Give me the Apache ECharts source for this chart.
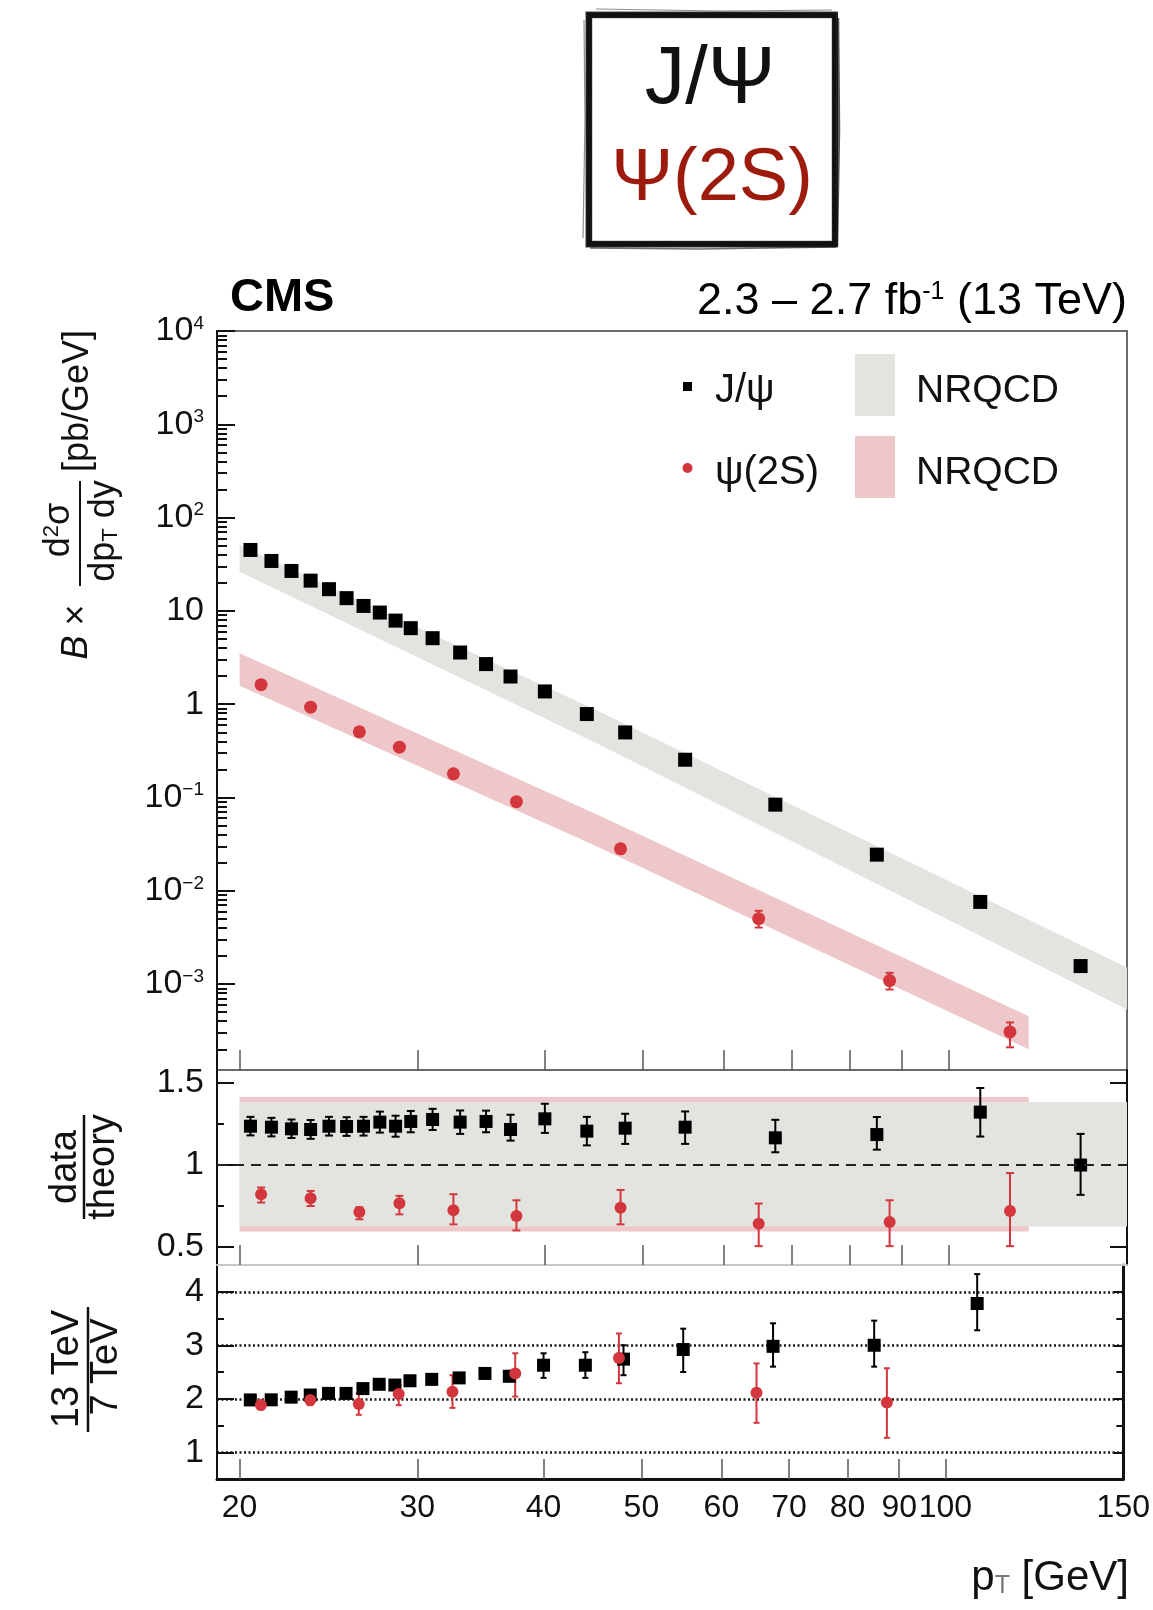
<!DOCTYPE html>
<html>
<head>
<meta charset="utf-8">
<script src="https://cdn.jsdelivr.net/npm/echarts@6/dist/echarts.min.js"></script>
<style>
  html, body { margin: 0; padding: 0; background: #fff; }
  #c { width: 1153px; height: 1610px; }
</style>
</head>
<body>
<div id="c"></div>
<script>
// ---------- measured values ----------
// J/psi: pT bin centres [GeV] and B x d2sigma/dpT dy [pb/GeV]
const jpsiPt   = [20.5, 21.5, 22.5, 23.5, 24.5, 25.5, 26.5, 27.5, 28.5, 29.5, 31, 33, 35, 37, 40, 44, 48, 55, 67.5, 85, 107.5, 135];
const jpsiXsec = [45, 34.3, 26.8, 21.1, 17.1, 13.7, 11.3, 9.6, 7.87, 6.53, 5.1, 3.58, 2.69, 1.98, 1.37, 0.784, 0.498, 0.254, 0.0838, 0.0244, 0.0076, 0.00156];

// psi(2S)
const psiPt   = [21, 23.5, 26.25, 28.75, 32.5, 37.5, 47.5, 65, 87.5, 115];
const psiXsec = [1.62, 0.929, 0.506, 0.346, 0.1795, 0.0902, 0.0282, 0.00503, 0.00109, 0.000307];
const psiXsecLo = [null, null, null, null, null, null, null, 0.00404, 0.000875, 0.00021];
const psiXsecHi = [null, null, null, null, null, null, null, 0.0061, 0.00132, 0.000388];

// NRQCD bands for the cross sections
const jpsiBandPt = [20, 45.3, 150];
const jpsiBandLo = [26.2, 0.367, 0.000535];
const jpsiBandHi = [50.9, 0.829, 0.00151];
const psiBandPt  = [20, 45.3, 120];
const psiBandLo  = [1.574, 0.029, 0.0002];
const psiBandHi  = [3.52, 0.0638, 0.000453];

// data / theory
const jpsiRatio   = [1.237, 1.231, 1.221, 1.217, 1.237, 1.235, 1.237, 1.262, 1.237, 1.266, 1.278, 1.262, 1.266, 1.217, 1.282, 1.207, 1.225, 1.231, 1.166, 1.186, 1.323, 1.0];
const jpsiRatioLo = [1.181, 1.175, 1.165, 1.16, 1.18, 1.178, 1.18, 1.198, 1.173, 1.2, 1.214, 1.19, 1.2, 1.149, 1.196, 1.12, 1.129, 1.129, 1.078, 1.094, 1.174, 0.818];
const jpsiRatioHi = [1.294, 1.288, 1.278, 1.275, 1.294, 1.292, 1.294, 1.326, 1.301, 1.33, 1.343, 1.333, 1.332, 1.307, 1.374, 1.294, 1.313, 1.327, 1.276, 1.293, 1.47, 1.19];
const psiRatio   = [0.822, 0.798, 0.714, 0.767, 0.724, 0.689, 0.74, 0.642, 0.652, 0.72];
const psiRatioLo = [0.771, 0.75, 0.669, 0.699, 0.638, 0.601, 0.638, 0.505, 0.505, 0.505];
const psiRatioHi = [0.863, 0.842, 0.742, 0.812, 0.822, 0.785, 0.848, 0.765, 0.785, 0.951];

// relative NRQCD uncertainty bands in the ratio panel
const jpsiRatioBandPt = [20, 150];
const jpsiRatioBandLo = [0.625, 0.625];
const jpsiRatioBandHi = [1.385, 1.385];
const psiRatioBandPt  = [20, 120];
const psiRatioBandLo  = [0.595, 0.595];
const psiRatioBandHi  = [1.415, 1.415];

// 13 TeV / 7 TeV
const jpsiEnergyPt  = [20.5, 21.5, 22.5, 23.5, 24.5, 25.5, 26.5, 27.5, 28.5, 29.5, 31, 33, 35, 37, 40, 44, 48, 55, 67.5, 85, 107.5];
const jpsiEnergy    = [1.978, 1.98, 2.03, 2.07, 2.10, 2.10, 2.19, 2.27, 2.256, 2.336, 2.362, 2.39, 2.473, 2.42, 2.627, 2.627, 2.74, 2.92, 2.98, 3.0, 3.78];
const jpsiEnergyLo  = [1.93, 1.93, 1.98, 2.02, 2.05, 2.05, 2.12, 2.2, 2.18, 2.26, 2.28, 2.3, 2.38, 2.33, 2.39, 2.39, 2.44, 2.5, 2.6, 2.6, 3.28];
const jpsiEnergyHi  = [2.03, 2.03, 2.08, 2.12, 2.15, 2.15, 2.26, 2.34, 2.33, 2.41, 2.44, 2.48, 2.57, 2.52, 2.85, 2.87, 3.0, 3.31, 3.41, 3.46, 4.33];
const psiEnergyPt   = [21, 23.5, 26.25, 28.75, 32.5, 37.5, 47.5, 65, 87.5];
const psiEnergy     = [1.885, 1.978, 1.9, 2.09, 2.13, 2.47, 2.76, 2.11, 1.93];
const psiEnergyLo   = [1.8, 1.88, 1.7, 1.88, 1.83, 2.04, 2.29, 1.55, 1.27];
const psiEnergyHi   = [1.97, 2.08, 2.1, 2.26, 2.44, 2.85, 3.22, 2.66, 2.57];

// axis ticks and labels
const xTickVals   = [20, 30, 40, 50, 60, 70, 80, 90, 100];
const xLabelVals  = [20, 30, 40, 50, 60, 70, 80, 90, 100, 150];
const mainYLabels = [1e-3, 1e-2, 1e-1, 1, 10, 100, 1e3, 1e4];
const ratioYLabels = [0.5, 1, 1.5];
const ratioYMinor  = [0.75, 1.25];
const energyYLabels = [1, 2, 3, 4];
const energyYMinor  = [1.5, 2.5, 3.5];

// ---------- styling ----------
const FONT = '"Liberation Sans", Arial, Helvetica, sans-serif';
const RED = '#d3363c';
const INK = '#111';
const GREY_BAND = '#e3e4df';
const PINK_BAND = '#edc7c9';
const MAIN_MIN = 1.2e-4, MAIN_MAX = 1e4;

// minor ticks 2..9 x 10^n inside the main panel range
const mainYMinor = [];
for (let e = -4; e < 4; e++) {
  for (let m = 2; m < 10; m++) {
    const v = +(m * Math.pow(10, e)).toPrecision(3);
    if (v > MAIN_MIN && v < MAIN_MAX) mainYMinor.push(v);
  }
}

function decadeLabel(v) {
  const e = Math.round(Math.log10(v));
  if (e === 0) return '1';
  if (e === 1) return '10';
  return '10{sup|' + (e < 0 ? '\u2212' : '') + Math.abs(e) + '}';
}

function xAxisFor(gridIndex, lineStyle, withLabels) {
  return {
    type: 'log', logBase: 10, gridIndex, min: 19, max: 150, position: 'bottom',
    axisLine: lineStyle ? { show: true, lineStyle } : { show: false },
    axisTick: { show: true, inside: true, length: 20, customValues: xTickVals,
                lineStyle: { color: '#5a5a5a', width: 1.5 } },
    axisLabel: withLabels ? {
      show: true, customValues: xLabelVals, margin: 13, fontSize: 32,
      fontFamily: FONT, color: INK, formatter: v => String(Math.round(v))
    } : { show: false },
    splitLine: { show: false }
  };
}

function yAxisFor(gridIndex, type, min, max, position, ticks, len, opts) {
  opts = opts || {};
  const ax = {
    type, gridIndex, min, max, position, offset: 0,
    axisLine: opts.line ? { show: true, onZero: false, lineStyle: opts.line } : { show: false },
    axisTick: { show: true, inside: true, length: len, customValues: ticks,
                lineStyle: { color: INK, width: 2 } },
    axisLabel: opts.label || { show: false },
    splitLine: opts.split || { show: false }
  };
  if (type === 'log') ax.logBase = 10;
  return ax;
}

function tickLabel(vals, formatter, rich) {
  return {
    show: true, customValues: vals, margin: 13, fontSize: 34, fontFamily: FONT,
    color: INK, formatter, rich
  };
}

// filled band between lower and upper edges, drawn as one polygon
function band(xi, yi, pts, lo, hi, color, z, extra) {
  const data = pts.map((p, i) => [p, lo[i], hi[i]]);
  return Object.assign({
    type: 'custom', xAxisIndex: xi, yAxisIndex: yi, z, silent: true,
    data, encode: { x: 0, y: [1, 2] },
    renderItem(params, api) {
      if (params.dataIndex !== 0) return null;
      const top = data.map(d => api.coord([d[0], d[2]]));
      const bot = data.map(d => api.coord([d[0], d[1]])).reverse();
      return { type: 'polygon', shape: { points: top.concat(bot) }, style: { fill: color } };
    }
  }, extra || {});
}

// vertical error bars with small caps
function errors(xi, yi, pts, lo, hi, color, cap, z) {
  const data = [];
  pts.forEach((p, i) => { if (lo[i] != null && hi[i] != null) data.push([p, lo[i], hi[i]]); });
  return {
    type: 'custom', xAxisIndex: xi, yAxisIndex: yi, z, silent: true,
    data, encode: { x: 0, y: [1, 2] },
    renderItem(params, api) {
      const a = api.coord([api.value(0), api.value(2)]);
      const b = api.coord([api.value(0), api.value(1)]);
      const st = { stroke: color, lineWidth: 2 };
      const kids = [{ type: 'line', shape: { x1: a[0], y1: a[1], x2: b[0], y2: b[1] }, style: st }];
      if (cap) {
        kids.push({ type: 'line', shape: { x1: a[0] - cap, y1: a[1], x2: a[0] + cap, y2: a[1] }, style: st });
        kids.push({ type: 'line', shape: { x1: b[0] - cap, y1: b[1], x2: b[0] + cap, y2: b[1] }, style: st });
      }
      return { type: 'group', children: kids };
    }
  };
}

function points(xi, yi, pts, vals, symbol, size, color, z) {
  return {
    type: 'scatter', xAxisIndex: xi, yAxisIndex: yi, z, silent: true,
    symbol, symbolSize: size, itemStyle: { color, opacity: 1 },
    data: pts.map((p, i) => [p, vals[i]])
  };
}

const supRich = { sup: { fontSize: 19, verticalAlign: 'top', fontFamily: FONT, color: INK } };

const option = {
  animation: false,
  backgroundColor: '#fff',
  grid: [
    { left: 217, top: 331, width: 910, height: 739, show: true, borderColor: '#6a6a6a', borderWidth: 2, containLabel: false },
    { left: 217, top: 1070, width: 910, height: 195, show: false, containLabel: false },
    { left: 217, top: 1265, width: 910, height: 214, show: false, containLabel: false }
  ],
  xAxis: [
    xAxisFor(0, null, false),
    xAxisFor(1, { color: '#c6c6c6', width: 2 }, false),
    xAxisFor(2, { color: INK, width: 3 }, true)
  ],
  yAxis: [
    // 0,1: main panel
    yAxisFor(0, 'log', MAIN_MIN, MAIN_MAX, 'left', mainYLabels, 18, {
      line: { color: INK, width: 2 },
      label: tickLabel(mainYLabels, decadeLabel, supRich)
    }),
    yAxisFor(0, 'log', MAIN_MIN, MAIN_MAX, 'left', mainYMinor, 10),
    // 2-5: data / theory
    yAxisFor(1, 'value', 0.39, 1.58, 'left', ratioYLabels, 17, {
      line: { color: INK, width: 2 },
      label: tickLabel(ratioYLabels, v => String(v))
    }),
    yAxisFor(1, 'value', 0.39, 1.58, 'left', ratioYMinor, 7),
    yAxisFor(1, 'value', 0.39, 1.58, 'right', ratioYLabels, 17, { line: { color: INK, width: 2 } }),
    yAxisFor(1, 'value', 0.39, 1.58, 'right', ratioYMinor, 7),
    // 6-9: 13 TeV / 7 TeV
    yAxisFor(2, 'value', 0.5, 4.5, 'left', energyYLabels, 17, {
      line: { color: INK, width: 2 },
      label: tickLabel(energyYLabels, v => String(v)),
      split: { show: true, lineStyle: { color: '#1a1a1a', width: 2.5, type: [2, 2.5] } }
    }),
    yAxisFor(2, 'value', 0.5, 4.5, 'left', energyYMinor, 7),
    yAxisFor(2, 'value', 0.5, 4.5, 'right', energyYLabels, 10, { line: { color: INK, width: 3 } }),
    yAxisFor(2, 'value', 0.5, 4.5, 'right', energyYMinor, 7)
  ],
  series: [
    // cross sections
    band(0, 0, jpsiBandPt, jpsiBandLo, jpsiBandHi, GREY_BAND, 1),
    band(0, 0, psiBandPt, psiBandLo, psiBandHi, PINK_BAND, 1),
    errors(0, 0, psiPt, psiXsecLo, psiXsecHi, RED, 4, 3),
    points(0, 0, jpsiPt, jpsiXsec, 'rect', 14, '#000', 4),
    points(0, 0, psiPt, psiXsec, 'circle', 13, RED, 4),

    // data / theory
    band(1, 2, psiRatioBandPt, psiRatioBandLo, psiRatioBandHi, PINK_BAND, 1),
    band(1, 2, jpsiRatioBandPt, jpsiRatioBandLo, jpsiRatioBandHi, GREY_BAND, 2, {
      markLine: {
        silent: true, symbol: 'none', label: { show: false },
        lineStyle: { color: '#222', width: 2, type: [10, 7] },
        data: [{ yAxis: 1 }]
      }
    }),
    errors(1, 2, jpsiPt, jpsiRatioLo, jpsiRatioHi, '#000', 4, 3),
    errors(1, 2, psiPt, psiRatioLo, psiRatioHi, RED, 4, 3),
    points(1, 2, jpsiPt, jpsiRatio, 'rect', 13, '#000', 4),
    points(1, 2, psiPt, psiRatio, 'circle', 12, RED, 4),

    // 13 TeV / 7 TeV
    errors(2, 6, jpsiEnergyPt, jpsiEnergyLo, jpsiEnergyHi, '#000', 3, 3),
    errors(2, 6, psiEnergyPt, psiEnergyLo, psiEnergyHi, RED, 3, 3),
    points(2, 6, jpsiEnergyPt, jpsiEnergy, 'rect', 13, '#000', 4),
    points(2, 6, psiEnergyPt, psiEnergy, 'circle', 12, RED, 5)
  ],
  graphic: [
    // framed heading with a brushed border
    { type: 'rect', shape: { x: 589, y: 15, width: 246, height: 229 }, style: { fill: 'none', stroke: '#111', lineWidth: 6 } },
    { type: 'rect', shape: { x: 586, y: 12, width: 251, height: 235 }, style: { fill: 'none', stroke: '#333', lineWidth: 1.5, opacity: 0.6 } },
    { type: 'rect', shape: { x: 592, y: 18, width: 240, height: 223 }, style: { fill: 'none', stroke: '#444', lineWidth: 1, opacity: 0.45 } },
    { type: 'polyline', shape: { points: [[584, 20], [585, 120], [583, 238]] }, style: { stroke: '#222', lineWidth: 1.2, opacity: 0.5, fill: null } },
    { type: 'polyline', shape: { points: [[596, 9], [720, 11], [832, 10]] }, style: { stroke: '#222', lineWidth: 1.2, opacity: 0.5, fill: null } },
    { type: 'polyline', shape: { points: [[838, 18], [839, 130], [837, 246]] }, style: { stroke: '#111', lineWidth: 2.5, opacity: 0.7, fill: null } },
    { type: 'polyline', shape: { points: [[590, 248], [700, 249], [836, 247]] }, style: { stroke: '#111', lineWidth: 1.5, opacity: 0.6, fill: null } },
    { type: 'text', x: 710, y: 81, style: { text: 'J/\u03a8', font: '81px ' + FONT, fill: '#111', textAlign: 'center', textVerticalAlign: 'middle' } },
    { type: 'text', x: 712, y: 180, style: { text: '\u03a8(2S)', font: '74px ' + FONT, fill: '#9c1b0c', textAlign: 'center', textVerticalAlign: 'middle' } },

    // experiment and luminosity
    { type: 'text', x: 230, y: 298, style: { text: 'CMS', font: 'bold 47px ' + FONT, fill: '#000', textAlign: 'left', textVerticalAlign: 'middle' } },
    { type: 'text', x: 1127, y: 302, style: {
        text: '2.3 \u2013 2.7 fb{sup|-1} (13 TeV)', font: '45px ' + FONT, fill: '#000',
        textAlign: 'right', textVerticalAlign: 'middle',
        rich: { sup: { font: '25px ' + FONT, verticalAlign: 'top', fill: '#000' } } } },

    // legend
    { type: 'rect', shape: { x: 683, y: 382, width: 9, height: 9 }, style: { fill: '#000' } },
    { type: 'text', x: 715, y: 391, style: { text: 'J/\u03c8', font: '40px ' + FONT, fill: '#111', textVerticalAlign: 'middle' } },
    { type: 'circle', shape: { cx: 687.5, cy: 468, r: 5 }, style: { fill: RED } },
    { type: 'text', x: 715, y: 473, style: { text: '\u03c8(2S)', font: '40px ' + FONT, fill: '#111', textVerticalAlign: 'middle' } },
    { type: 'rect', shape: { x: 855, y: 354, width: 40, height: 62 }, style: { fill: GREY_BAND } },
    { type: 'rect', shape: { x: 855, y: 436, width: 40, height: 62 }, style: { fill: PINK_BAND } },
    { type: 'text', x: 916, y: 391, style: { text: 'NRQCD', font: '39px ' + FONT, fill: '#111', textVerticalAlign: 'middle' } },
    { type: 'text', x: 916, y: 473, style: { text: 'NRQCD', font: '39px ' + FONT, fill: '#111', textVerticalAlign: 'middle' } },

    // main panel y title (reads bottom to top)
    { type: 'text', x: 77, y: 632, rotation: Math.PI / 2, style: {
        text: '{i|B} \u00d7', font: '36px ' + FONT, fill: '#111', textAlign: 'center', textVerticalAlign: 'middle',
        rich: { i: { font: 'italic 36px ' + FONT, fill: '#111' } } } },
    { type: 'text', x: 59, y: 530, rotation: Math.PI / 2, style: {
        text: 'd{sup|2}\u03c3', font: '36px ' + FONT, fill: '#111', textAlign: 'center', textVerticalAlign: 'middle',
        rich: { sup: { font: '22px ' + FONT, verticalAlign: 'top', fill: '#111' } } } },
    { type: 'line', shape: { x1: 80, y1: 481, x2: 80, y2: 586 }, style: { stroke: '#111', lineWidth: 2 } },
    { type: 'text', x: 104, y: 531, rotation: Math.PI / 2, style: {
        text: 'dp{sub|T} dy', font: '36px ' + FONT, fill: '#111', textAlign: 'center', textVerticalAlign: 'middle',
        rich: { sub: { font: '22px ' + FONT, verticalAlign: 'bottom', fill: '#111' } } } },
    { type: 'text', x: 78, y: 401, rotation: Math.PI / 2, style: {
        text: '[pb/GeV]', font: '36px ' + FONT, fill: '#111', textAlign: 'center', textVerticalAlign: 'middle' } },

    // ratio panel titles
    { type: 'text', x: 66, y: 1167, rotation: Math.PI / 2, style: { text: 'data', font: '38px ' + FONT, fill: '#111', textAlign: 'center', textVerticalAlign: 'middle' } },
    { type: 'line', shape: { x1: 84, y1: 1115, x2: 84, y2: 1219 }, style: { stroke: '#111', lineWidth: 2.5 } },
    { type: 'text', x: 104, y: 1167, rotation: Math.PI / 2, style: { text: 'theory', font: '38px ' + FONT, fill: '#111', textAlign: 'center', textVerticalAlign: 'middle' } },

    { type: 'text', x: 68, y: 1369, rotation: Math.PI / 2, style: { text: '13 TeV', font: '38px ' + FONT, fill: '#111', textAlign: 'center', textVerticalAlign: 'middle' } },
    { type: 'line', shape: { x1: 88, y1: 1307, x2: 88, y2: 1432 }, style: { stroke: '#111', lineWidth: 2.5 } },
    { type: 'text', x: 107, y: 1367, rotation: Math.PI / 2, style: { text: '7 TeV', font: '38px ' + FONT, fill: '#111', textAlign: 'center', textVerticalAlign: 'middle' } },

    // x title
    { type: 'text', x: 1129, y: 1578, style: {
        text: 'p{sub|T} [GeV]', font: '42px ' + FONT, fill: '#111', textAlign: 'right', textVerticalAlign: 'middle',
        rich: { sub: { font: '25px ' + FONT, verticalAlign: 'bottom', fill: '#777' } } } }
  ]
};

const chart = echarts.init(document.getElementById('c'), null, { renderer: 'canvas', width: 1153, height: 1610 });
chart.setOption(option);
</script>
</body>
</html>
